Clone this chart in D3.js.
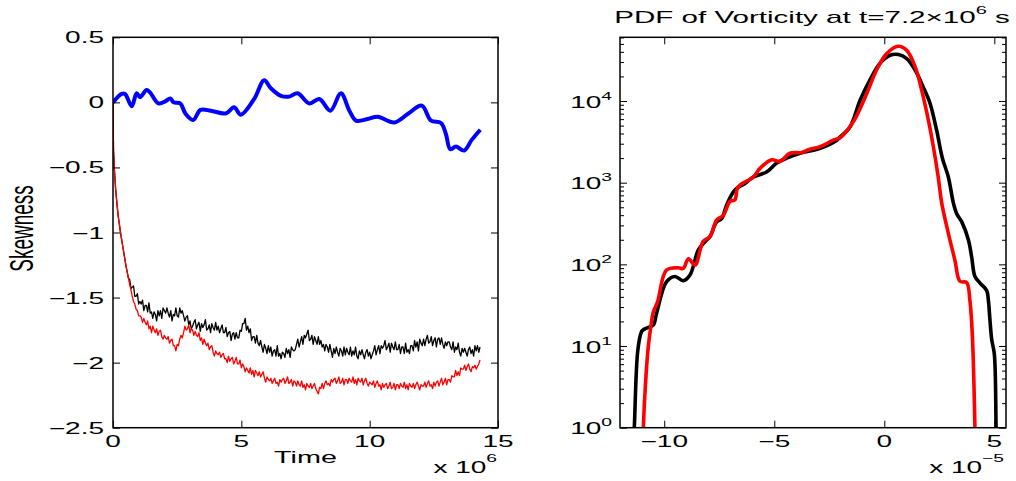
<!DOCTYPE html>
<html>
<head>
<meta charset="utf-8">
<script src="https://cdn.jsdelivr.net/npm/d3@7"></script>
<style>
  body { margin: 0; background: #fff; }
  svg { display: block; }
</style>
</head>
<body>
<svg id="fig" width="1016" height="481"></svg>
<script>
// ---------- Skewness vs time (time in units of 1e6 s) ----------
// smooth (blue) skewness
const blueTime = [0, 0.34, 0.47, 0.73, 0.92, 1.05, 1.31, 1.44, 1.77, 2.04, 2.23, 2.36, 2.62, 2.82, 3.12,
  3.41, 3.81, 4.39, 4.72, 4.98, 5.50, 5.89, 6.15, 6.54, 6.87, 7.19, 7.65, 8.04, 8.47, 8.88, 9.21, 9.47,
  9.92, 10.31, 10.96, 11.48, 12.03, 12.39, 12.78, 12.97, 13.14, 13.36, 13.68, 13.97, 14.31];
const blueSkew = [0, 0.065, 0.065, -0.03, 0.07, 0.04, 0.095, 0.077, -0.008, 0.008, 0.03, 0, -0.008, -0.085, -0.135,
  -0.058, -0.064, -0.085, -0.038, -0.095, 0.026, 0.17, 0.108, 0.05, 0.044, 0.07, -0.008, 0.026, -0.064, 0.07, -0.064, -0.14,
  -0.128, -0.11, -0.154, -0.09, -0.025, -0.14, -0.158, -0.243, -0.36, -0.34, -0.37, -0.29, -0.21];

// sampled (noisy) skewness series share one time base: 0, 0.02, 0.05, then every 0.05 from 0.1 to 14.3
const noisyTime = [0, 0.02, 0.05].concat(d3.range(0.1, 14.325, 0.05));
const blackSkew = [0, -0.37, -0.50,
  -0.66, -0.77, -0.87, -0.94, -1.01, -1.07, -1.13, -1.19, -1.25, -1.30, -1.35, -1.36, -1.43, -1.42, -1.41, -1.49, -1.49, -1.47, -1.55, -1.53,
  -1.55, -1.52, -1.60, -1.56, -1.56, -1.61, -1.54, -1.62, -1.61, -1.66, -1.61, -1.63, -1.68, -1.60, -1.64, -1.60, -1.66, -1.58, -1.60, -1.62,
  -1.58, -1.62, -1.65, -1.60, -1.68, -1.63, -1.64, -1.58, -1.64, -1.65, -1.58, -1.62, -1.60, -1.64, -1.68, -1.65, -1.64, -1.71, -1.68, -1.74,
  -1.72, -1.69, -1.67, -1.74, -1.71, -1.69, -1.76, -1.70, -1.73, -1.71, -1.67, -1.75, -1.74, -1.71, -1.77, -1.70, -1.73, -1.75, -1.69, -1.75,
  -1.72, -1.77, -1.74, -1.71, -1.77, -1.77, -1.73, -1.80, -1.77, -1.76, -1.83, -1.78, -1.77, -1.82, -1.77, -1.81, -1.81, -1.75, -1.76, -1.70,
  -1.70, -1.66, -1.75, -1.72, -1.77, -1.74, -1.83, -1.80, -1.80, -1.85, -1.79, -1.85, -1.87, -1.83, -1.88, -1.92, -1.86, -1.89, -1.93, -1.87,
  -1.92, -1.88, -1.95, -1.91, -1.90, -1.95, -1.87, -1.95, -1.93, -1.97, -1.92, -1.93, -1.96, -1.89, -1.93, -1.90, -1.96, -1.88, -1.90, -1.91,
  -1.90, -1.86, -1.82, -1.88, -1.84, -1.80, -1.86, -1.79, -1.81, -1.78, -1.75, -1.83, -1.82, -1.79, -1.86, -1.80, -1.83, -1.86, -1.80, -1.86,
  -1.83, -1.88, -1.86, -1.91, -1.86, -1.88, -1.92, -1.86, -1.91, -1.96, -1.89, -1.93, -1.88, -1.92, -1.95, -1.89, -1.91, -1.95, -1.88, -1.94,
  -1.89, -1.92, -1.94, -1.88, -1.95, -1.91, -1.94, -1.88, -1.95, -1.97, -1.91, -1.94, -1.90, -1.94, -1.97, -1.92, -1.90, -1.95, -1.92, -1.97,
  -1.94, -1.91, -1.87, -1.94, -1.90, -1.87, -1.93, -1.87, -1.89, -1.87, -1.83, -1.90, -1.88, -1.85, -1.92, -1.85, -1.88, -1.90, -1.84, -1.90,
  -1.90, -1.86, -1.93, -1.88, -1.88, -1.93, -1.85, -1.92, -1.90, -1.93, -1.87, -1.87, -1.91, -1.83, -1.88, -1.84, -1.91, -1.82, -1.85, -1.87,
  -1.82, -1.87, -1.82, -1.79, -1.85, -1.84, -1.80, -1.87, -1.83, -1.81, -1.88, -1.82, -1.81, -1.86, -1.81, -1.86, -1.89, -1.84, -1.87, -1.84,
  -1.84, -1.88, -1.90, -1.84, -1.92, -1.88, -1.90, -1.85, -1.92, -1.95, -1.89, -1.92, -1.89, -1.92, -1.95, -1.90, -1.88, -1.93, -1.90, -1.95,
  -1.87, -1.91, -1.87, -1.92, -1.88];
const redSkew = [0, -0.37, -0.50,
  -0.66, -0.77, -0.87, -0.94, -1.01, -1.07, -1.13, -1.19, -1.25, -1.30, -1.35, -1.40, -1.44, -1.49, -1.53, -1.55, -1.59, -1.60, -1.64, -1.64,
  -1.65, -1.69, -1.66, -1.69, -1.71, -1.68, -1.74, -1.72, -1.77, -1.72, -1.75, -1.77, -1.74, -1.79, -1.76, -1.75, -1.80, -1.82, -1.79, -1.81,
  -1.82, -1.80, -1.85, -1.83, -1.82, -1.87, -1.87, -1.91, -1.86, -1.87, -1.82, -1.79, -1.81, -1.77, -1.72, -1.75, -1.74, -1.71, -1.77, -1.74,
  -1.75, -1.79, -1.76, -1.79, -1.80, -1.77, -1.83, -1.81, -1.86, -1.82, -1.85, -1.87, -1.85, -1.90, -1.88, -1.87, -1.92, -1.95, -1.91, -1.93,
  -1.94, -1.92, -1.96, -1.94, -1.93, -1.97, -1.97, -2.00, -1.95, -1.99, -1.97, -1.96, -2.01, -1.99, -1.96, -2.01, -2.01, -1.98, -2.04, -2.01,
  -2.03, -2.07, -2.04, -2.06, -2.08, -2.04, -2.09, -2.06, -2.11, -2.06, -2.08, -2.10, -2.07, -2.11, -2.09, -2.07, -2.12, -2.15, -2.11, -2.13,
  -2.14, -2.12, -2.16, -2.14, -2.12, -2.16, -2.15, -2.18, -2.13, -2.15, -2.13, -2.12, -2.16, -2.14, -2.11, -2.16, -2.15, -2.13, -2.18, -2.14,
  -2.15, -2.18, -2.14, -2.17, -2.18, -2.14, -2.19, -2.17, -2.21, -2.16, -2.18, -2.19, -2.16, -2.20, -2.18, -2.16, -2.20, -2.22, -2.24, -2.19,
  -2.20, -2.16, -2.20, -2.16, -2.14, -2.17, -2.16, -2.18, -2.13, -2.15, -2.13, -2.12, -2.16, -2.14, -2.11, -2.16, -2.15, -2.12, -2.17, -2.13,
  -2.13, -2.16, -2.12, -2.14, -2.15, -2.11, -2.16, -2.13, -2.17, -2.12, -2.14, -2.15, -2.12, -2.17, -2.14, -2.12, -2.16, -2.18, -2.15, -2.16,
  -2.17, -2.14, -2.19, -2.16, -2.14, -2.18, -2.17, -2.21, -2.16, -2.19, -2.17, -2.16, -2.20, -2.18, -2.15, -2.20, -2.19, -2.16, -2.21, -2.17,
  -2.17, -2.20, -2.16, -2.18, -2.19, -2.15, -2.20, -2.17, -2.21, -2.16, -2.18, -2.19, -2.16, -2.20, -2.17, -2.15, -2.18, -2.21, -2.17, -2.18,
  -2.18, -2.15, -2.19, -2.16, -2.14, -2.18, -2.17, -2.20, -2.15, -2.18, -2.15, -2.14, -2.18, -2.15, -2.12, -2.17, -2.15, -2.12, -2.17, -2.13,
  -2.13, -2.15, -2.10, -2.11, -2.11, -2.06, -2.10, -2.07, -2.10, -2.04, -2.05, -2.05, -2.02, -2.06, -2.03, -2.01, -2.05, -2.07, -2.03, -2.04,
  -2.02, -2.05, -2.03, -2.01, -1.98];

const timeTicks = [0, 5, 10, 15];
const skewTicks = [0.5, 0, -0.5, -1, -1.5, -2, -2.5];

// ---------- PDF of vorticity (vorticity in units of 1e-5) ----------
const blackVort = [-11.42, -11.36, -11.20, -11.03, -10.95, -10.80, -10.50, -10.35, -9.90, -9.51, -9.14, -8.83,
  -8.45, -8.15, -7.92, -7.62, -7.39, -7.16, -6.79, -6.33, -5.95, -5.35, -4.89, -4.44, -3.83, -2.92, -2.16,
  -2.01, -1.56, -1.10, -0.65, -0.20, 0.26, 0.64, 1.02, 1.40, 1.77, 2.08, 2.38, 2.64, 2.91, 3.14, 3.29, 3.52,
  3.82, 3.97, 4.12, 4.35, 4.65, 4.73, 4.80, 4.88, 5.00, 5.08, 5.11];
const blackPdf = [0.5, 1, 8.9, 15, 15.8, 16.6, 18, 25, 61, 71, 63, 74,
  150, 189, 219, 331, 363, 537, 813, 977, 1175, 1349, 1738, 1995, 2291, 2630, 3311,
  3631, 4786, 10233, 18197, 28840, 36308, 37154, 33113, 23988, 14791, 9333, 4365, 1995, 1175, 562, 417, 331,
  200, 123, 71, 59, 48, 36, 21, 12, 8, 1, 0.5];
const redVort = [-10.98, -10.95, -10.85, -10.73, -10.60, -10.50, -10.30, -9.90, -9.36, -9.14, -8.90, -8.60,
  -8.23, -7.92, -7.62, -7.32, -7.01, -6.79, -6.64, -5.95, -5.65, -5.12, -4.74, -4.29, -3.75, -3.38, -2.92,
  -2.32, -2.01, -1.41, -0.80, -0.35, 0.11, 0.64, 1.02, 1.40, 1.70, 2.00, 2.23, 2.45, 2.61, 2.91, 3.21, 3.44,
  3.74, 3.89, 4.01, 4.12, 4.15];
const redPdf = [0.5, 1, 3.5, 9.5, 18, 26, 35, 85, 91, 89, 117, 98,
  191, 219, 347, 398, 589, 617, 891, 1175, 1496, 1905, 1820, 2291, 2344, 2570, 2754,
  3311, 3548, 5559, 12303, 23988, 38019, 46774, 41687, 26303, 13490, 5888, 2754, 1175, 562, 240, 112, 62,
  60, 36, 12, 1, 0.5];

const vortTicks = [-10, -5, 0, 5];
const pdfDecades = [0, 1, 2, 3, 4];

// ---------- figure ----------
const svg = d3.select("#fig");
const FONT = '"Liberation Sans", Arial, Helvetica, sans-serif';
const SX = 1.75;   // horizontal stretch of the lettering
svg.attr("font-family", FONT);

function label(g, x, y, anchor, size, parts, sx = SX, rotate = 0) {
  const t = g.append("text")
    .attr("transform", `translate(${x},${y}) scale(${sx},1)` + (rotate ? ` rotate(${rotate})` : ""))
    .attr("text-anchor", anchor)
    .attr("font-size", size)
    .attr("fill", "#000");
  parts.forEach(p => {
    const ts = t.append("tspan").text(p[0]);
    if (p[1]) ts.attr("dy", p[1]);
    if (p[2]) ts.attr("font-size", p[2]);
  });
  return t;
}

const fmt = v => (v < 0 ? "\u2212" : "") + Math.abs(v);

function styleAxis(g) {
  g.select(".domain").remove();
  g.selectAll(".tick line").attr("stroke", "#000").attr("stroke-width", 1);
  g.selectAll(".tick text").remove();
}

// ----- left panel -----
const L = { left: 113, right: 498, top: 37.3, bottom: 427.7 };
const xL = d3.scaleLinear().domain([0, 15]).range([L.left, L.right]);
const yL = d3.scaleLinear().domain([-2.5, 0.5]).range([L.bottom, L.top]);
const gL = svg.append("g");

gL.append("clipPath").attr("id", "clipL").append("rect")
  .attr("x", L.left).attr("y", L.top).attr("width", L.right - L.left).attr("height", L.bottom - L.top);

const lineL = d3.line().x(d => xL(d[0])).y(d => yL(d[1]));
const plotL = gL.append("g").attr("clip-path", "url(#clipL)");

const blackData = noisyTime.map((t, i) => [t, blackSkew[i]]).filter(d => d[1] !== undefined);
const redData = noisyTime.map((t, i) => [t, redSkew[i]]).filter(d => d[1] !== undefined);
const blueData = blueTime.map((t, i) => [t, blueSkew[i]]);

plotL.append("path").datum(blackData).attr("d", lineL)
  .attr("fill", "none").attr("stroke", "#000").attr("stroke-width", 1.3).attr("stroke-linejoin", "round");
plotL.append("path").datum(redData).attr("d", lineL)
  .attr("fill", "none").attr("stroke", "#f00").attr("stroke-width", 1.3).attr("stroke-linejoin", "round");
plotL.append("path").datum(blueData).attr("d", lineL.curve(d3.curveCatmullRom.alpha(0.5)))
  .attr("fill", "none").attr("stroke", "#00f").attr("stroke-width", 4).attr("stroke-linejoin", "round");

gL.append("g").attr("transform", `translate(0,${L.bottom})`)
  .call(d3.axisBottom(xL).tickValues(timeTicks).tickSize(-7)).call(styleAxis);
gL.append("g").attr("transform", `translate(0,${L.top})`)
  .call(d3.axisTop(xL).tickValues(timeTicks).tickSize(-7)).call(styleAxis);
gL.append("g").attr("transform", `translate(${L.left},0)`)
  .call(d3.axisLeft(yL).tickValues(skewTicks).tickSize(-7)).call(styleAxis);
gL.append("g").attr("transform", `translate(${L.right},0)`)
  .call(d3.axisRight(yL).tickValues(skewTicks).tickSize(-7)).call(styleAxis);

gL.append("rect").attr("x", L.left).attr("y", L.top)
  .attr("width", L.right - L.left).attr("height", L.bottom - L.top)
  .attr("fill", "none").attr("stroke", "#000").attr("stroke-width", 1.5);

skewTicks.forEach(v => label(gL, L.left - 9, yL(v) + 6, "end", 16, [[fmt(v)]]));
timeTicks.forEach(v => label(gL, xL(v), 447, "middle", 16, [[fmt(v)]]));
label(gL, L.right - 1, 473, "end", 16, [["x 10"], ["6", -11, 11]]);
label(gL, (L.left + L.right) / 2, 463, "middle", 16, [["Time"]], 1.8);
label(gL, 33, (L.top + L.bottom) / 2 - 4, "middle", 19, [["Skewness"]], SX, -90);

// ----- right panel -----
const R = { left: 620, right: 1006, top: 37.3, bottom: 427.7 };
const xR = d3.scaleLinear().domain([-12.01, 5.53]).range([R.left, R.right]);
const yR = d3.scaleLog().domain([1, Math.pow(10, 4.78)]).range([R.bottom, R.top]);
const gR = svg.append("g");

gR.append("clipPath").attr("id", "clipR").append("rect")
  .attr("x", R.left).attr("y", R.top).attr("width", R.right - R.left).attr("height", R.bottom - R.top);

const lineR = d3.line().x(d => xR(d[0])).y(d => yR(d[1])).curve(d3.curveCatmullRom.alpha(0.5));
const plotR = gR.append("g").attr("clip-path", "url(#clipR)");
plotR.append("path").datum(blackVort.map((v, i) => [v, blackPdf[i]])).attr("d", lineR)
  .attr("fill", "none").attr("stroke", "#000").attr("stroke-width", 3.6).attr("stroke-linejoin", "round");
plotR.append("path").datum(redVort.map((v, i) => [v, redPdf[i]])).attr("d", lineR)
  .attr("fill", "none").attr("stroke", "#f00").attr("stroke-width", 3.6).attr("stroke-linejoin", "round");

const pMax = yR.domain()[1];
const majorP = pdfDecades.map(k => Math.pow(10, k));
const minorP = [];
pdfDecades.forEach(k => d3.range(2, 10).forEach(m => {
  const v = m * Math.pow(10, k);
  if (v <= pMax) minorP.push(v);
}));

gR.append("g").attr("transform", `translate(0,${R.bottom})`)
  .call(d3.axisBottom(xR).tickValues(vortTicks).tickSize(-7)).call(styleAxis);
gR.append("g").attr("transform", `translate(0,${R.top})`)
  .call(d3.axisTop(xR).tickValues(vortTicks).tickSize(-7)).call(styleAxis);
[["Left", R.left], ["Right", R.right]].forEach(([side, xpos]) => {
  const ax = side === "Left" ? d3.axisLeft : d3.axisRight;
  gR.append("g").attr("transform", `translate(${xpos},0)`)
    .call(ax(yR).tickValues(majorP).tickSize(-7)).call(styleAxis);
  gR.append("g").attr("transform", `translate(${xpos},0)`)
    .call(ax(yR).tickValues(minorP).tickSize(-4)).call(styleAxis);
});

gR.append("rect").attr("x", R.left).attr("y", R.top)
  .attr("width", R.right - R.left).attr("height", R.bottom - R.top)
  .attr("fill", "none").attr("stroke", "#000").attr("stroke-width", 1.5);

pdfDecades.forEach(k => label(gR, R.left - 8, yR(Math.pow(10, k)) + 6.5, "end", 16, [["10"], [String(k), -8, 11]]));
vortTicks.forEach(v => label(gR, xR(v), 447, "middle", 16, [[fmt(v)]]));
label(gR, R.right - 2, 473, "end", 16, [["x 10"], ["\u22125", -11, 11]]);
label(gR, (R.left + R.right) / 2 - 1, 23, "middle", 17,
  [["PDF of Vorticity at t=7.2\u00d710"], ["6", -9, 11.5], [" s", 9]], 1.74);
</script>
</body>
</html>
